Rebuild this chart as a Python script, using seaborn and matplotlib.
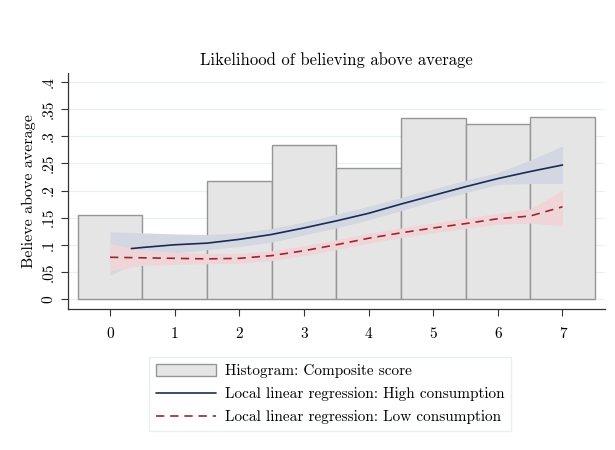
import numpy as np
import pandas as pd
import seaborn as sns
import matplotlib.pyplot as plt

# histogram of composite score (bar heights)
score = [0, 1, 2, 3, 4, 5, 6, 7]
share = [0.154, 0.102, 0.217, 0.284, 0.241, 0.334, 0.323, 0.336]

# local linear fit: high consumption
high_x = [0.33, 0.5, 1, 1.5, 2, 2.5, 3, 3.5, 4, 4.5, 5, 5.5, 6, 6.5, 7]
high_fit = [0.093, 0.095, 0.100, 0.103, 0.110, 0.119, 0.131, 0.144, 0.158,
            0.175, 0.191, 0.207, 0.222, 0.235, 0.247]

# confidence bands on a common grid
band_x = [0, 0.5, 1, 1.5, 2, 2.5, 3, 3.5, 4, 4.5, 5, 5.5, 6, 6.5, 7]
high_lo = [0.044, 0.072, 0.085, 0.091, 0.097, 0.105, 0.118, 0.131, 0.146,
           0.163, 0.180, 0.196, 0.211, 0.213, 0.213]
high_hi = [0.124, 0.122, 0.120, 0.119, 0.122, 0.130, 0.142, 0.156, 0.171,
           0.187, 0.203, 0.219, 0.233, 0.256, 0.282]

# local linear fit: low consumption
low_fit = [0.077, 0.076, 0.075, 0.074, 0.075, 0.080, 0.089, 0.100, 0.112,
           0.122, 0.131, 0.139, 0.148, 0.153, 0.170]
low_lo = [0.052, 0.062, 0.064, 0.065, 0.066, 0.071, 0.080, 0.091, 0.103,
          0.113, 0.122, 0.130, 0.138, 0.140, 0.135]
low_hi = [0.102, 0.091, 0.086, 0.084, 0.084, 0.089, 0.098, 0.109, 0.121,
          0.131, 0.140, 0.149, 0.158, 0.166, 0.201]

ytick_vals = [0, 0.05, 0.1, 0.15, 0.2, 0.25, 0.3, 0.35, 0.4]
ytick_labels = ['0', '.05', '.1', '.15', '.2', '.25', '.3', '.35', '.4']

sns.set_style("white")
plt.rcParams['font.family'] = ['cmr10', 'DejaVu Serif']
plt.rcParams['axes.formatter.use_mathtext'] = True
plt.rcParams['text.color'] = 'black'
plt.rcParams['xtick.color'] = '#333333'
plt.rcParams['ytick.color'] = '#333333'
plt.rcParams['xtick.labelcolor'] = 'black'
plt.rcParams['ytick.labelcolor'] = 'black'
plt.rcParams['axes.labelcolor'] = 'black'
plt.rcParams['xtick.bottom'] = True
plt.rcParams['ytick.left'] = True

navy = '#1b2a55'
red = '#9a2633'

fig = plt.figure(figsize=(6.15, 4.5), dpi=100)
ax = fig.add_axes([0.1106, 0.3133, 0.8734, 0.5245])

for v in ytick_vals:
    ax.axhline(v, color='#e8f1f2', lw=0.9, zorder=0)

hist = pd.DataFrame({'score': score, 'share': share})
sns.histplot(data=hist, x='score', weights='share', discrete=True, ax=ax,
             color='#e5e5e5', edgecolor='#959595', linewidth=1.0, alpha=1,
             zorder=1, label='Histogram: Composite score')

ax.fill_between(band_x, high_lo, high_hi, color='#d2d7e2', lw=0, zorder=2)
ax.fill_between(band_x, low_lo, low_hi, color='#efd5d8', lw=0, zorder=3)

high = pd.DataFrame({'x': high_x, 'y': high_fit})
low = pd.DataFrame({'x': band_x, 'y': low_fit})
sns.lineplot(data=high, x='x', y='y', ax=ax, color=navy, lw=1.2, zorder=4,
             label='Local linear regression: High consumption')
sns.lineplot(data=low, x='x', y='y', ax=ax, color=red, lw=1.2, zorder=4,
             linestyle=(0, (5, 3.5)),
             label='Local linear regression: Low consumption')

ax.set_xlim(-0.65, 7.66)
ax.set_ylim(-0.0184, 0.4166)
ax.set_xticks(score)
ax.set_xticklabels([str(s) for s in score], fontsize=11)
ax.set_yticks(ytick_vals)
ax.set_yticklabels(ytick_labels, fontsize=11, rotation=90, va='center')
ax.tick_params(axis='both', direction='out', length=5, width=0.8, pad=4)
ax.tick_params(axis='x', pad=8)
ax.set_xlabel('')
ax.set_ylabel('Believe above average', fontsize=11.5, labelpad=4)
ax.set_title('Likelihood of believing above average', fontsize=12, pad=6)

sns.despine(ax=ax)
for s in ['left', 'bottom']:
    ax.spines[s].set_color('#333333')
    ax.spines[s].set_linewidth(0.9)

handles, labels = ax.get_legend_handles_labels()
order = ['Histogram: Composite score',
         'Local linear regression: High consumption',
         'Local linear regression: Low consumption']
lookup = dict(zip(labels, handles))
if ax.legend_ is not None:
    ax.legend_.remove()
fig.legend([lookup[k] for k in order], order, loc='upper center',
           bbox_to_anchor=(0.537, 0.207), borderaxespad=0,
           fontsize=11, frameon=True, fancybox=False, edgecolor='#e3eced',
           handlelength=3.9, handleheight=0.9, handletextpad=0.6,
           labelspacing=0.55, borderpad=0.45)

plt.savefig('out.png', dpi=100)
